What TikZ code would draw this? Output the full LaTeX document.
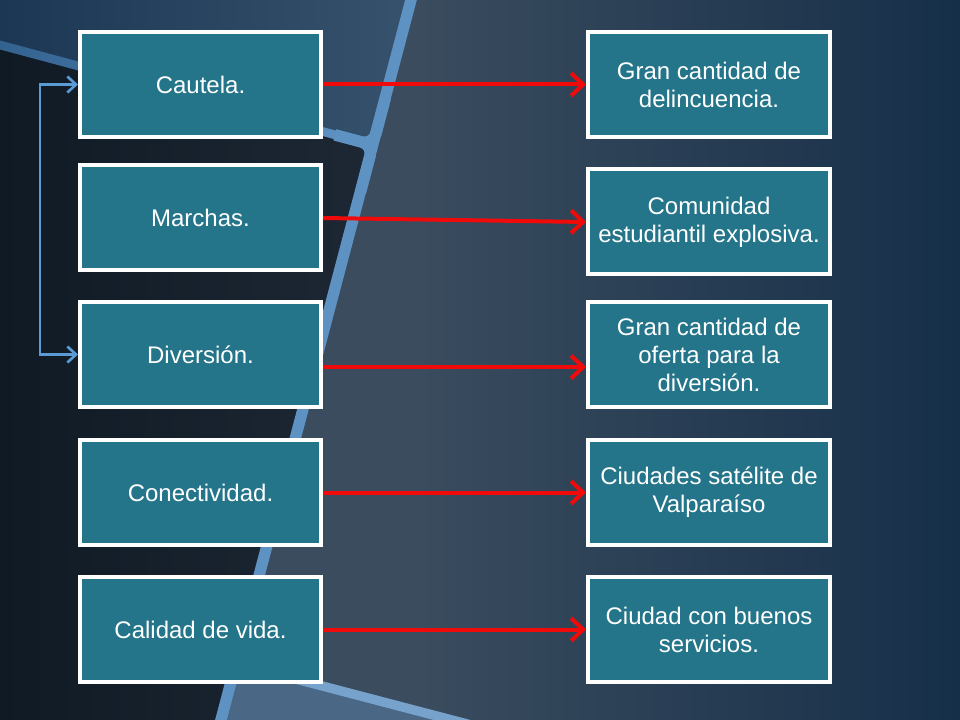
\documentclass[tikz,border=0pt]{standalone}
\usepackage{fontspec}
\setmainfont{Liberation Sans}
\usetikzlibrary{arrows.meta,shadows}
\definecolor{bgmid}{HTML}{3A4C5E}
\definecolor{bgright}{HTML}{162F49}
\definecolor{tlleft}{HTML}{1B3754}
\definecolor{tlright}{HTML}{37526C}
\definecolor{darkleft}{HTML}{0F1A25}
\definecolor{darkright}{HTML}{1D2834}
\definecolor{stripe}{HTML}{5E92C3}
\definecolor{bandleft}{HTML}{33628F}
\definecolor{lowlight}{HTML}{4A6785}
\definecolor{boxfill}{HTML}{247589}
\definecolor{linkblue}{HTML}{5A9BD5}
\definecolor{arrowred}{HTML}{F00A0A}
\tikzset{
  boxnode/.style={draw=white, line width=3pt, fill=boxfill, text=white,
    font=\fontsize{18pt}{21pt}\selectfont, align=center,
    minimum height=78.75pt, inner sep=2pt,
    drop shadow={opacity=0.35, shadow xshift=1pt, shadow yshift=-1pt}},
  leftbox/.style={boxnode, minimum width=180.75pt},
  rightbox/.style={boxnode, minimum width=181.5pt},
  redarrow/.style={draw=arrowred, line width=3pt,
    -{Straight Barb[length=9pt, width=17pt, line width=3pt]}},
  bluelink/.style={draw=linkblue, line width=2pt,
    {Straight Barb[length=6.5pt, width=12pt, line width=2pt]}-{Straight Barb[length=6.5pt, width=12pt, line width=2pt]}}
}
\begin{document}
\begin{tikzpicture}[x=0.75pt, y=-0.75pt]
\useasboundingbox (0,0) rectangle (960,720);
\begin{scope}
\clip (0,0) rectangle (960,720);
% base background
\fill[bgmid] (0,0) rectangle (420,720);
\shade[left color=bgmid, right color=bgright] (419,0) rectangle (960,720);
% lighter region lower middle
\fill[lowlight] (236,663.4) -- (540,744) -- (200,744) -- cycle;
% top-left blue region
\shade[left color=tlleft, right color=tlright] (0,-1) -- (412.5,-1) -- (373,145) -- (0,45) -- cycle;
% dark left region
\shade[left color=darkleft, right color=darkright] (0,45) -- (373,145) -- (219.6,725) -- (0,725) -- cycle;
% top band
\shade[left color=bandleft, right color=stripe] (0,40.5) -- (355,135.7) -- (355,144.7) -- (0,49.5) -- cycle;
% junction fillets
\draw[stripe, line width=8.5pt, rounded corners=9] (335,134.9) -- (373,145) -- (360.6,192);
\draw[stripe, line width=8.5pt, rounded corners=9] (335,134.9) -- (373,145) -- (385.4,98);
% straight stripe
\draw[stripe, line width=8.5pt] (412.3,-5) -- (219.6,725);
% bottom band
\draw[stripe!85!white, line width=7pt] (236,663.4) -- (540,743);
\end{scope}
% left boxes
\node[leftbox] (c1) at (200.5,84.5) {Cautela.};
\node[leftbox] (c2) at (200.5,218) {Marchas.};
\node[leftbox] (c3) at (200.5,354.5) {Diversión.};
\node[leftbox] (c4) at (200.5,492.5) {Conectividad.};
\node[leftbox] (c5) at (200.5,629.5) {Calidad de vida.};
% right boxes
\node[rightbox] (r1) at (709,84.5) {Gran cantidad de\\delincuencia.};
\node[rightbox] (r2) at (709,222) {Comunidad\\estudiantil explosiva.};
\node[rightbox] (r3) at (709,354.5) {Gran cantidad de\\oferta para la\\diversión.};
\node[rightbox] (r4) at (709,492.5) {Ciudades satélite de\\Valparaíso};
\node[rightbox] (r5) at (709,629.5) {Ciudad con buenos\\servicios.};
% red arrows
\draw[redarrow] (c1.east) -- (r1.west);
\draw[redarrow] (c2.east) -- (r2.west);
\draw[redarrow] ([yshift=-9.4pt]c3.east) -- ([yshift=-9.4pt]r3.west);
\draw[redarrow] (c4.east) -- (r4.west);
\draw[redarrow] (c5.east) -- (r5.west);
% blue link
\coordinate (bend) at ([xshift=-28.5pt]c1.west);
\draw[bluelink] (c1.west) -- (bend) |- (c3.west);
\end{tikzpicture}
\end{document}
